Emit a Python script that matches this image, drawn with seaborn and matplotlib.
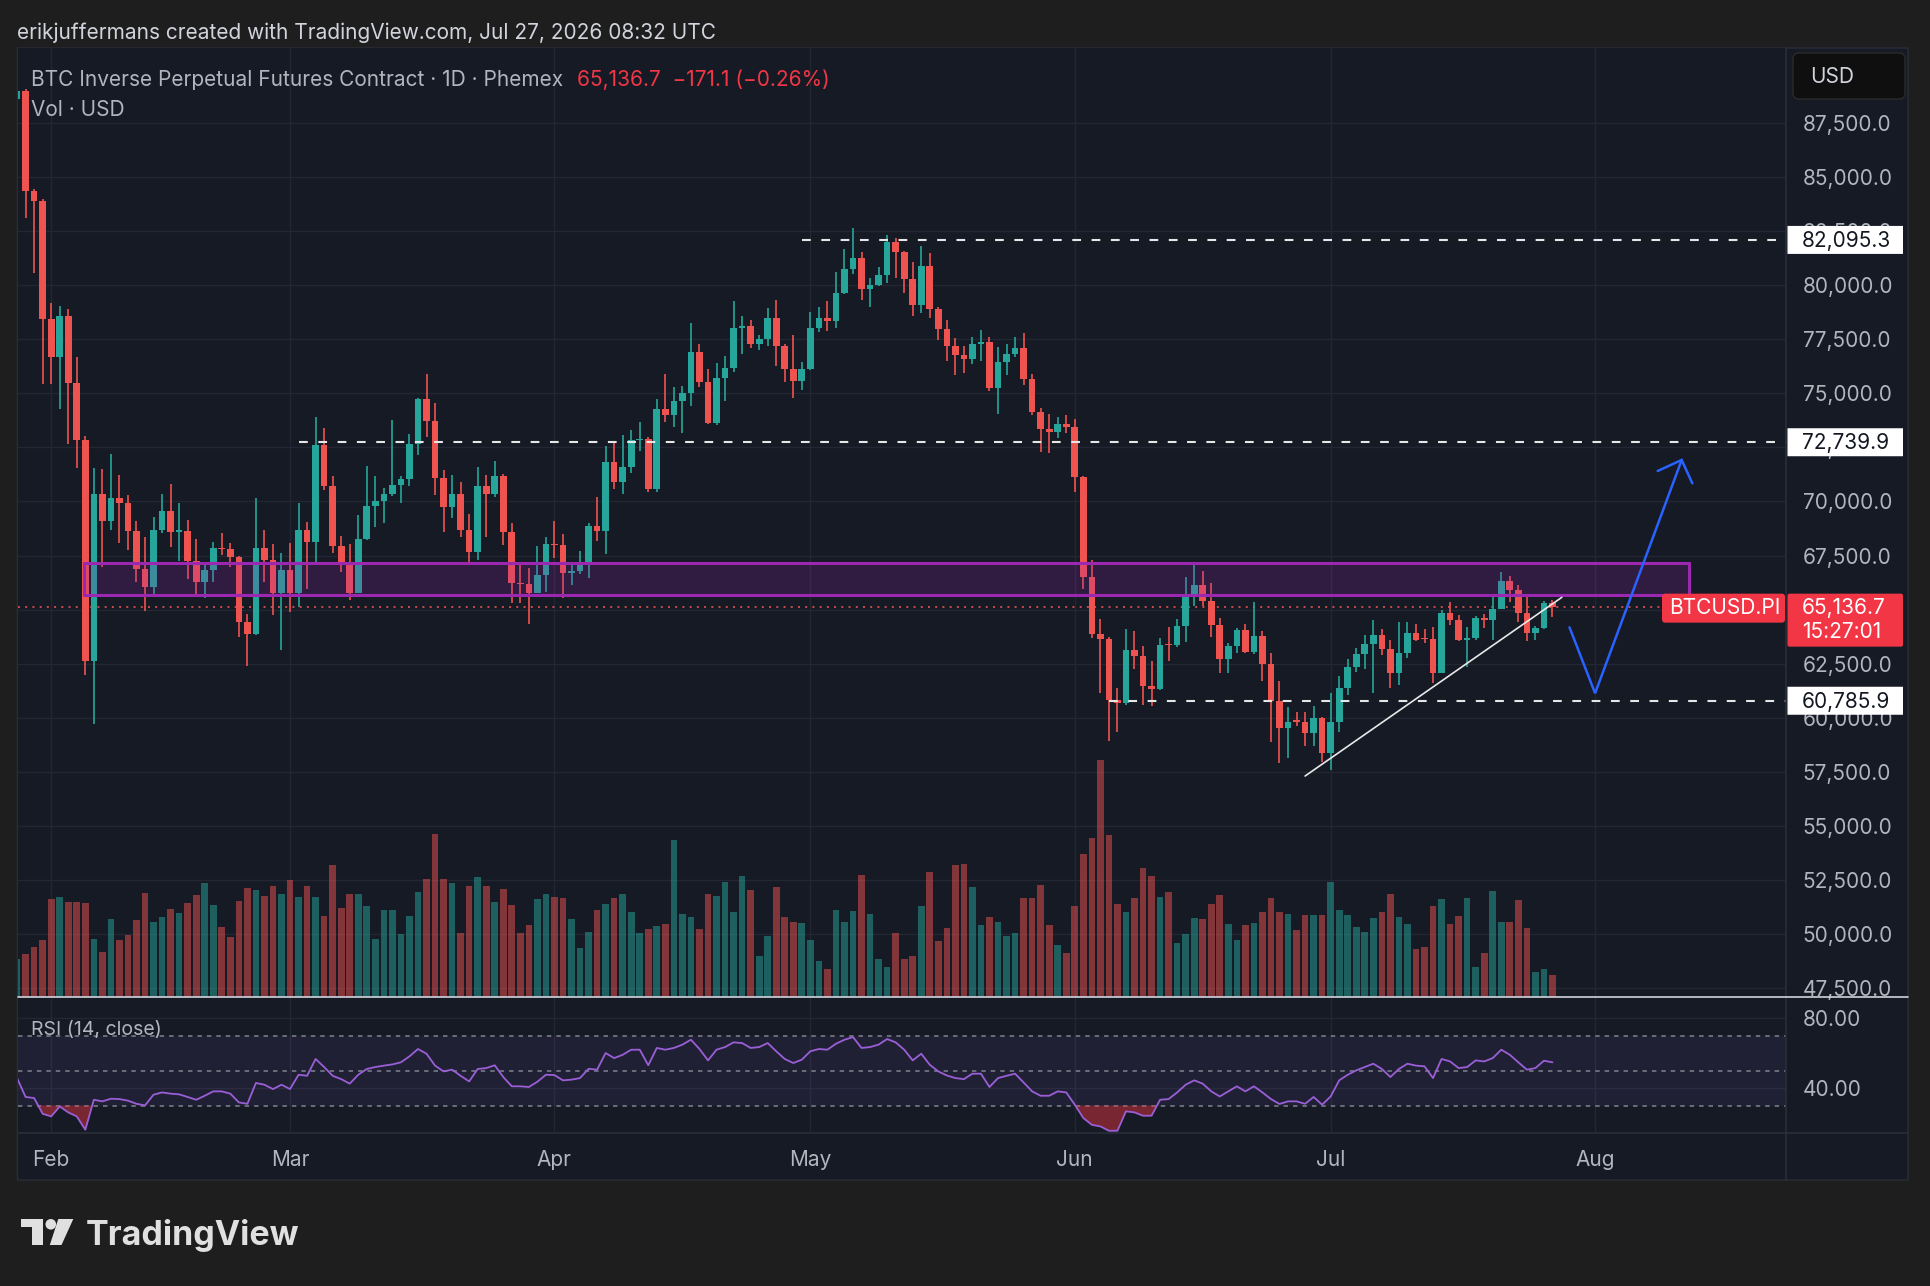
import matplotlib

matplotlib.use("Agg")
import matplotlib.dates as mdates
import matplotlib.pyplot as plt
import numpy as np
import pandas as pd
import seaborn as sns
from matplotlib.lines import Line2D
from matplotlib.patches import Circle, FancyBboxPatch, Polygon, Rectangle
from matplotlib.ticker import FixedLocator, FuncFormatter
from matplotlib.transforms import IdentityTransform

# ---- data (one candle per day, Jan 28 .. Jul 27) ----
DATES = pd.date_range("2026-01-28", "2026-07-27", freq="D")

OPEN = [
    88600, 88990, 84380, 83910, 78460, 76660, 78560, 75490, 72850, 62620,
    70340, 69100, 70140, 69940, 68640, 66870, 66030, 68680, 69580, 68600,
    68650, 67270, 66270, 66830, 67830, 67790, 67430, 64430, 63860, 67830,
    67290, 65750, 66830, 65750, 68680, 68140, 72610, 70720, 67940, 67220,
    65780, 68260, 69790, 70020, 70350, 70760, 71040, 72660, 74740, 73740,
    71070, 69730, 70330, 68680, 67680, 70720, 70330, 71180, 68600, 66210,
    66180, 65780, 66600, 68030, 67990, 66710, 66800, 67060, 68870, 68650,
    71810, 70890, 71580, 72830, 72880, 70580, 74280, 74000, 74650, 75000,
    76930, 75540, 73610, 75690, 76190, 78010, 78110, 77270, 77500, 78500,
    77190, 76130, 75570, 76110, 78010, 78500, 78360, 79620, 80730, 81240,
    79810, 80010, 80470, 81980, 81520, 80290, 79080, 80890, 78880, 77960,
    77200, 76770, 76590, 77270, 77360, 75260, 76460, 76800, 77080, 75650,
    74150, 73340, 73200, 73580, 73430, 71150, 66490, 63870, 63640, 60820,
    60670, 63130, 62870, 61480, 61310, 63400, 63360, 64260, 65600, 66140,
    65410, 64290, 62700, 63330, 64060, 63060, 63780, 62470, 60790, 59510,
    59890, 59820, 59310, 60000, 58350, 59790, 61360, 62360, 62930, 63410,
    63830, 63160, 62050, 63010, 63930, 63660, 63620, 62080, 64860, 64520,
    63590, 63670, 64630, 64520, 65030, 66320, 65910, 64860, 63930, 64130,
    65308,
]
HIGH = [
    89400, 89090, 84440, 83970, 79160, 79060, 78920, 76660, 73010, 71540,
    71500, 72210, 71240, 70300, 69100, 68340, 69300, 70340, 70800, 69940,
    69140, 68280, 67070, 68130, 68540, 68080, 67470, 64790, 70140, 68680,
    68030, 67600, 68060, 69910, 69040, 73890, 73380, 71190, 68400, 68030,
    69370, 71640, 71180, 70640, 73770, 71180, 73120, 74770, 75880, 74540,
    71460, 71220, 70920, 69420, 71610, 71220, 71870, 71250, 68990, 67220,
    66910, 67940, 68370, 69100, 68500, 67090, 67710, 68990, 70190, 72580,
    72770, 73070, 73300, 73660, 72970, 74720, 75880, 75310, 75340, 78240,
    77280, 76110, 76390, 76740, 79270, 78580, 78390, 77700, 78930, 79320,
    77280, 77700, 76460, 78750, 78980, 79280, 80630, 81660, 82630, 81550,
    80320, 80860, 82320, 82200, 81580, 81090, 81830, 81470, 79010, 78390,
    77540, 77200, 77590, 77930, 77620, 77130, 77270, 77620, 77810, 75880,
    74310, 74040, 73890, 74000, 73800, 71180, 67290, 64570, 63720, 61360,
    64100, 64030, 63330, 62640, 63670, 64180, 64570, 66490, 67060, 66790,
    66210, 64600, 63440, 64130, 64330, 65370, 64030, 62980, 61700, 60510,
    60280, 60280, 60540, 60050, 61130, 61930, 62700, 63240, 63830, 64520,
    64090, 63600, 64440, 64440, 64330, 64090, 64210, 64980, 65370, 64750,
    64180, 64700, 64780, 65570, 66750, 66550, 66140, 65600, 64240, 65400,
    65440,
]
LOW = [
    88400, 83110, 80570, 75450, 75450, 74290, 72650, 71540, 61980, 59710,
    66990, 68700, 68080, 67740, 66270, 64930, 65730, 68540, 67900, 67230,
    66430, 65630, 65530, 66270, 67530, 66990, 63720, 62380, 63820, 66290,
    64750, 63130, 64900, 65140, 65940, 67220, 70530, 67600, 66750, 65440,
    65750, 68220, 68830, 69020, 70250, 69940, 70720, 72150, 73000, 70300,
    68600, 69220, 68370, 67220, 67290, 68340, 70220, 67990, 65320, 65320,
    64320, 65750, 65830, 67370, 65520, 66140, 66630, 66450, 68170, 67570,
    70560, 70330, 71300, 72350, 70420, 70420, 73690, 73430, 73150, 74430,
    75310, 73580, 73540, 74660, 76000, 76820, 77110, 77000, 77190, 76260,
    75510, 74770, 75150, 76080, 77820, 77900, 78040, 79590, 80500, 79320,
    79010, 79960, 80120, 80320, 79660, 78580, 78730, 78470, 77470, 76500,
    75850, 75930, 76340, 76500, 75110, 74030, 75850, 76700, 75390, 74000,
    72300, 72260, 72920, 73150, 70450, 65940, 63700, 61160, 58920, 59360,
    60590, 62240, 60590, 60540, 61280, 62620, 63290, 63520, 65170, 65170,
    63720, 62050, 62080, 62980, 62980, 62950, 61700, 58860, 57890, 58120,
    59620, 58690, 58690, 57970, 57580, 59360, 61050, 62130, 62240, 61130,
    62900, 61360, 61510, 62750, 63550, 63440, 61620, 62050, 64290, 63560,
    62360, 63600, 64130, 63590, 65010, 65370, 64440, 63560, 63590, 64090,
    64670,
]
CLOSE = [
    88990, 84380, 83910, 78460, 76660, 78560, 75490, 72850, 62620, 70340,
    69100, 70140, 69940, 68640, 66870, 66030, 68680, 69580, 68600, 68650,
    67270, 66270, 66830, 67830, 67790, 67430, 64430, 63860, 67830, 67290,
    65750, 66830, 65750, 68680, 68140, 72610, 70720, 67940, 67220, 65780,
    68260, 69790, 70020, 70350, 70760, 71040, 72660, 74740, 73740, 71070,
    69730, 70330, 68680, 67680, 70720, 70330, 71180, 68600, 66210, 66180,
    65780, 66600, 68030, 67990, 66710, 66800, 67060, 68870, 68650, 71810,
    70890, 71580, 72830, 72880, 70580, 74280, 74000, 74650, 75000, 76930,
    75540, 73610, 75690, 76190, 78010, 78110, 77270, 77500, 78500, 77190,
    76130, 75570, 76110, 78010, 78500, 78360, 79620, 80730, 81240, 79810,
    80010, 80470, 81980, 81520, 80290, 79080, 80890, 78880, 77960, 77200,
    76770, 76590, 77270, 77360, 75260, 76460, 76800, 77080, 75650, 74150,
    73340, 73200, 73580, 73430, 71150, 66490, 63870, 63640, 60820, 60670,
    63130, 62870, 61480, 61310, 63360, 63360, 64260, 65600, 66140, 65410,
    64290, 62700, 63330, 64060, 63060, 63780, 62470, 60790, 59510, 59820,
    59820, 59310, 60000, 58350, 59790, 61360, 62360, 62930, 63410, 63830,
    63160, 62050, 63010, 63930, 63590, 63620, 62080, 64860, 64520, 63590,
    63670, 64630, 64520, 65030, 66320, 65910, 64860, 63930, 64130, 65308,
    65136.7,
]
# volume (USD, relative units)
VOLUME = [
    38, 43, 50, 57, 98, 100, 95, 95, 94, 58,
    45, 78, 57, 62, 77, 104, 75, 80, 88, 84,
    94, 102, 114, 92, 70, 60, 96, 109, 107, 101,
    111, 103, 117, 100, 111, 100, 81, 132, 89, 103,
    103, 91, 58, 87, 87, 63, 81, 105, 118, 163,
    118, 114, 64, 111, 120, 111, 95, 108, 92, 64,
    72, 98, 103, 100, 99, 78, 49, 65, 87, 93,
    99, 103, 85, 64, 68, 71, 73, 157, 83, 80,
    68, 103, 101, 115, 85, 121, 107, 41, 61, 110,
    80,
    75, 74, 57, 36, 28, 87, 75, 86, 122, 83,
    38, 30, 64, 38, 41, 91, 125, 56, 69, 132,
    133, 110, 72, 80, 75, 61, 64, 99, 99, 112,
    72, 52, 44, 91, 143, 159, 237, 162, 93, 85,
    99, 129, 121, 100, 105, 54, 63, 79, 78, 93,
    102, 73, 57, 72, 74, 85, 99, 85, 83, 67,
    82, 82, 82, 115, 87, 82, 70, 65, 79, 85,
    103, 80, 73, 48, 50, 91, 98, 73, 81, 99,
    30, 44, 106, 75, 75, 97, 69, 25, 28, 22,
]
RSI = [
    45.7,
    34.9, 34.3, 25.3, 23.8, 29.5, 26.1, 23.8, 16.2, 33.3, 32.4,
    33.9, 33.7, 32.8, 31.0, 30.1, 36.2, 37.5, 36.8, 36.4, 34.9,
    33.3, 35.6, 38.1, 38.1, 36.8, 31.8, 31.0, 42.9, 41.9, 39.4,
    41.9, 39.4, 47.6, 47.0, 56.6, 52.0, 47.0, 45.1, 42.5, 47.6,
    50.9, 52.0, 52.8, 53.5, 54.7, 58.1, 62.3, 59.6, 52.8, 49.5,
    50.5, 47.0, 43.8, 50.9, 51.4, 53.0, 46.3, 41.0, 41.0, 40.6,
    43.6, 47.6, 47.4, 44.4, 44.8, 45.7, 51.0, 50.5, 60.0, 57.1,
    59.0, 61.9, 61.9, 53.0, 62.9, 61.9, 62.9, 64.8, 67.6, 62.3,
    55.8, 61.9, 63.4, 66.1, 65.7, 62.9, 63.4, 65.7, 61.0, 56.6,
    54.3, 56.2, 61.0, 62.3, 61.9, 65.3, 67.6, 69.1, 62.9, 63.4,
    64.8, 68.0, 66.1, 61.9, 55.8, 59.6, 53.3, 49.5, 47.2, 45.7,
    45.1, 48.2, 48.2, 40.6, 45.7, 47.0, 48.2, 43.2, 38.1, 35.6,
    35.6, 38.1, 37.5, 30.5, 22.9, 19.0, 18.1, 15.6, 15.6, 26.7,
    26.1, 24.2, 24.2, 33.3, 33.7, 37.5, 41.9, 44.4, 42.5, 38.1,
    35.2, 38.1, 41.0, 38.1, 41.0, 37.5, 33.7, 30.9, 32.4, 32.4,
    31.0, 34.9, 30.5, 35.2, 44.4, 47.6, 50.1, 52.0, 53.9, 50.9,
    46.3, 50.9, 53.9, 52.8, 52.4, 45.7, 56.6, 55.2, 51.4, 52.0,
    55.8, 55.2, 57.1, 61.9, 59.0, 54.7, 50.5, 51.4, 55.6, 54.7,
]

PRICE_TICKS = list(range(47500, 90000, 2500))
LEVELS = [(82095.3, "2026-04-30"), (72739.9, "2026-03-02"), (60785.9, "2026-06-05")]
LAST_PRICE = 65136.7
ZONE = ("2026-02-04 21:36", "2026-08-12", 65675, 67177)
TRENDLINE = (["2026-06-28", "2026-07-28 02:24"], [57305, 65568])
PATH_X = ["2026-07-29", "2026-08-01", "2026-08-11 03:36"]
PATH_Y = [64180, 61130, 71920]
HEAD_X = ["2026-08-08 08:00", "2026-08-11 03:36", "2026-08-12 09:36"]
HEAD_Y = [71410, 71920, 70840]

# ---- style ----
OUTER = "#1E1E1E"
BG = "#161A25"
GRID = "#232733"
BORDER = "#2A2E39"
TEXT = "#B2B5BE"
UP = "#26A69A"
DOWN = "#EF5350"
FS = 15
W, H = 1930, 1286

sns.set_theme(style="dark")
plt.rcParams["font.family"] = ["Inter", "DejaVu Sans"]
plt.rcParams["lines.scale_dashes"] = False
plt.rcParams["axes.unicode_minus"] = True

fig = plt.figure(figsize=(W / 100, H / 100), dpi=100, facecolor=OUTER)


def ts(values):
    return [pd.Timestamp(v) for v in values]


def rect(x0, y0, x1, y1):
    """axes rect from top-based pixel box"""
    return [x0 / W, 1 - y1 / H, (x1 - x0) / W, (y1 - y0) / H]


def px_box(x0, y0, x1, y1, fc, ec="none", lw=0, rs=0.0, z=5):
    fig.add_artist(FancyBboxPatch((x0, H - y1), x1 - x0, y1 - y0,
                                  boxstyle=f"round,pad=0,rounding_size={rs}",
                                  transform=IdentityTransform(), fc=fc, ec=ec, lw=lw, zorder=z))


def px_text(x, y, s, **kw):
    kw.setdefault("color", TEXT)
    kw.setdefault("fontsize", FS)
    kw.setdefault("va", "center")
    return fig.text(x / W, 1 - y / H, s, **kw)


def px_line(xs, ys, **kw):
    fig.add_artist(Line2D([x / W for x in xs], [1 - y / H for y in ys],
                          transform=fig.transFigure, **kw))


# widget frame
px_box(17.5, 48, 1908, 1180, BG, ec=BORDER, lw=1, z=-2)

ax = fig.add_axes(rect(17.5, 48, 1786, 996.5))
axr = fig.add_axes(rect(17.5, 997, 1786, 1132), sharex=ax)
axv = ax.twinx()

xlim = (pd.Timestamp("2026-01-28 01:12"), pd.Timestamp("2026-08-23 09:07"))

# ---- price pane ----
ax.set_facecolor(BG)
o, h, l, c = map(np.asarray, (OPEN, HIGH, LOW, CLOSE))
up = c >= o
colors = np.where(up, UP, DOWN)
ax.vlines(DATES, l, h, colors=colors, lw=1.2, zorder=3)
ax.bar(DATES, np.maximum(np.abs(c - o), 60), bottom=np.minimum(o, c), width=0.78,
       color=colors, linewidth=0, zorder=4)

zx0, zx1 = mdates.date2num(pd.Timestamp(ZONE[0])), mdates.date2num(pd.Timestamp(ZONE[1]))
ax.add_patch(Rectangle((zx0, ZONE[2]), zx1 - zx0, ZONE[3] - ZONE[2],
                       facecolor=(0.612, 0.153, 0.690, 0.2), edgecolor="#9C27B0",
                       lw=2.2, zorder=5))
for level, start in LEVELS:
    ax.plot([pd.Timestamp(start), xlim[1]], [level, level], color="#E6E6E6",
            lw=1.5, ls=(0, (6.3, 7.6)), zorder=6)
ax.axhline(LAST_PRICE, color=DOWN, lw=1.2, ls=(0, (1.4, 3.8)), zorder=2)
ax.plot(ts(TRENDLINE[0]), TRENDLINE[1], color="#E8E8E8", lw=1.2, zorder=6)
ax.plot(ts(PATH_X), PATH_Y, color="#2962FF", lw=1.8, zorder=6,
        solid_capstyle="round", solid_joinstyle="miter")
ax.plot(ts(HEAD_X), HEAD_Y, color="#2962FF", lw=1.8, zorder=6,
        solid_capstyle="round", solid_joinstyle="miter")

ax.set_xlim(xlim)
ax.set_ylim(47110, 90970)
ax.yaxis.tick_right()
ax.yaxis.set_major_locator(FixedLocator(PRICE_TICKS))
ax.yaxis.set_major_formatter(FuncFormatter(lambda v, _: f"{v:,.1f}"))
ax.tick_params(axis="y", length=0, pad=12, labelsize=FS, labelcolor=TEXT)
ax.tick_params(axis="x", length=0, labelbottom=False)
ax.grid(True, color=GRID, lw=1)
for s in ax.spines.values():
    s.set_visible(False)

# volume overlay
axv.bar(DATES, VOLUME, width=0.78, color=np.where(up, UP, DOWN), alpha=0.5, linewidth=0)
axv.set_ylim(0, 948.5)
axv.yaxis.set_visible(False)
for s in axv.spines.values():
    s.set_visible(False)

# ---- RSI pane ----
axr.set_facecolor(BG)
rsi = np.asarray(RSI)
axr.axhspan(30, 70, color="#7E57C2", alpha=0.1, lw=0, zorder=1)
for lvl in (70, 50, 30):
    axr.axhline(lvl, color="#787B86", lw=1.2, ls=(0, (3.2, 3.6)), zorder=2)
axr.fill_between(DATES, rsi, 30, where=rsi < 30, interpolate=True,
                 color="#F23645", alpha=0.45, lw=0, zorder=3)
sns.lineplot(x=DATES, y=rsi, ax=axr, color="#9A5FD6", linewidth=1.3, zorder=4)
axr.set_xlim(xlim)
axr.set_ylim(14.9, 92.0)
axr.set_xlabel("")
axr.set_ylabel("")
axr.yaxis.tick_right()
axr.set_yticks([40, 80])
axr.yaxis.set_major_formatter(FuncFormatter(lambda v, _: f"{v:.2f}"))
axr.tick_params(axis="y", length=0, pad=12, labelsize=FS, labelcolor=TEXT)
axr.xaxis.set_major_locator(mdates.MonthLocator())
axr.xaxis.set_major_formatter(mdates.DateFormatter("%b"))
axr.tick_params(axis="x", length=0, pad=13, labelsize=FS, labelcolor=TEXT)
axr.grid(True, color=GRID, lw=1)
for s in axr.spines.values():
    s.set_visible(False)

# ---- separators ----
px_line([1786, 1786], [48, 1180], color=BORDER, lw=1.2, zorder=4)
px_line([17.5, 1908], [1132.5, 1132.5], color=BORDER, lw=1.2, zorder=4)
px_line([17.5, 1908], [996.5, 996.5], color="#D1D4DC", lw=1.2, zorder=6)


def price_y(p):
    return H - ax.transData.transform((0, p))[1]


# right-scale labels (they cover the tick labels behind them, as in TradingView)
for level, _ in LEVELS:
    y = price_y(level)
    px_box(1787.5, y - 14, 1903, y + 14, "#FFFFFF")
    px_text(1802, y + 1, f"{level:,.1f}", color="#131722", zorder=7)
y = price_y(LAST_PRICE)
px_box(1787.5, y - 13, 1903, y + 40, "#F23645", rs=2)
px_text(1802, y + 1, f"{LAST_PRICE:,.1f}", color="white", zorder=7)
px_text(1802, y + 25, "15:27:01", color="white", zorder=7)
px_box(1662, y - 13, 1785, y + 16, "#F23645", rs=3)
px_text(1669, y + 1, "BTCUSD.PI", color="white", zorder=7)
px_box(1793, 53, 1905, 99, "#0F0F0F", ec="#2A2A2A", lw=1, rs=6)
px_text(1810, 77, "USD", color="#D1D4DC", zorder=7)

# ---- header / legend ----
px_text(17, 33, "erikjuffermans created with TradingView.com, Jul 27, 2026 08:32 UTC",
        color="#D1D4DC")
px_text(31, 80, "BTC Inverse Perpetual Futures Contract · 1D · Phemex", color=TEXT, zorder=7)
px_text(577, 80, "65,136.7  \u2212171.1 (\u22120.26%)", color="#F23645", zorder=7)
px_text(31, 110, "Vol · USD", color=TEXT, zorder=7)
px_text(31, 1030, "RSI (14, close)", color=TEXT, fontsize=14, zorder=7)

# ---- TradingView logo ----
LOGO = "#E0E0E0"
fig.add_artist(Rectangle((21, H - 1227), 21.7, 8, transform=IdentityTransform(), fc=LOGO, lw=0))
fig.add_artist(Rectangle((31.7, H - 1245), 11, 26, transform=IdentityTransform(), fc=LOGO, lw=0))
fig.add_artist(Circle((50.8, H - 1224.3), 5.3, transform=IdentityTransform(), fc=LOGO, lw=0))
fig.add_artist(Polygon([(58.3, H - 1219), (73.3, H - 1219), (61.5, H - 1245), (49.8, H - 1245)],
                       closed=True, transform=IdentityTransform(), fc=LOGO, lw=0))
px_text(86, 1245, "TradingView", color=LOGO, fontsize=24.5, fontweight="bold", va="baseline")

fig.savefig("out.png", dpi=100, facecolor=OUTER)
